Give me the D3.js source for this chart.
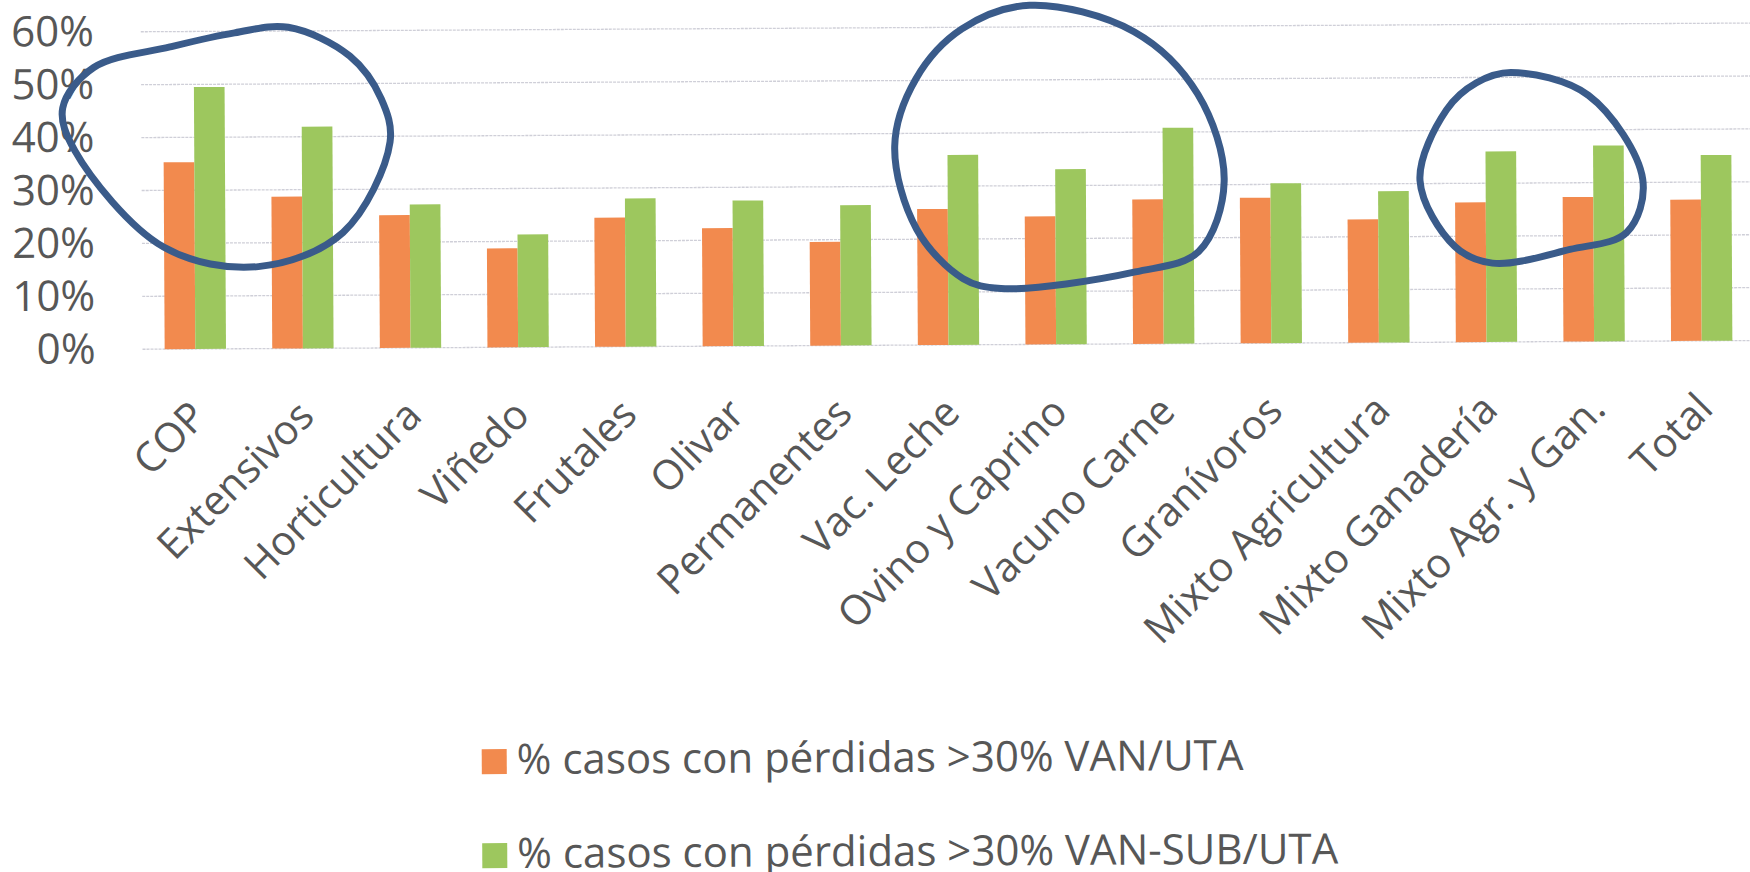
<!DOCTYPE html>
<html>
<head>
<meta charset="utf-8">
<script src="https://cdn.jsdelivr.net/npm/d3@7"></script>
<style>
  html, body { margin: 0; padding: 0; background: #ffffff; }
  svg { display: block; font-family: "Open Sans", sans-serif; }
</style>
</head>
<body>
<svg id="chart"></svg>
<script>
const categories = ['COP', 'Extensivos', 'Horticultura', 'Viñedo', 'Frutales', 'Olivar', 'Permanentes',
    'Vac. Leche', 'Ovino y Caprino', 'Vacuno Carne', 'Granívoros', 'Mixto Agricultura',
    'Mixto Ganadería', 'Mixto Agr. y Gan.', 'Total'];
const lossVanUta = [35.3, 28.7, 25.1, 18.7, 24.4, 22.3, 19.6, 25.7, 24.2, 27.3, 27.5, 23.3, 26.4, 27.3, 26.7];
const lossVanSubUta = [49.5, 41.9, 27.1, 21.3, 28.0, 27.5, 26.5, 35.9, 33.1, 40.8, 30.2, 28.6, 36.0, 37.0, 35.1];
const seriesNames = ['% casos con pérdidas >30% VAN/UTA', '% casos con pérdidas >30% VAN-SUB/UTA'];
const yTicks = [0, 10, 20, 30, 40, 50, 60];

// hand-drawn circles on the scan: [category offset from first bar group, value %]
const circleOne = [[0.88, 60.7], [1.45, 55.2], [1.74, 47.1], [1.82, 38.9], [1.38, 21.9], [0.59, 15.5],
    [-0.29, 19.3], [-1.11, 37.6], [-1.22, 45.7], [-0.93, 53.3], [-0.22, 57.1], [0.38, 59.7]];
const circleTwo = [[7.77, 64.1], [8.74, 59.0], [9.33, 47.1], [9.57, 30.6], [9.33, 17.4], [8.74, 13.6],
    [7.49, 10.6], [7.14, 12.5], [6.71, 21.9], [6.51, 37.6], [6.71, 50.3], [7.14, 59.7]];
const circleThree = [[12.24, 50.9], [12.96, 46.5], [13.46, 30.6], [13.31, 20.6], [12.78, 17.4],
    [12.06, 14.9], [11.71, 18.1], [11.39, 30.6], [11.64, 43.9], [11.92, 49.0]];

const W = 1750, H = 872;
const colors = ['#f28a4e', '#9dc75e'];
const textColor = '#575757';

const svg = d3.select('#chart').attr('width', W).attr('height', H);
svg.append('rect').attr('width', W).attr('height', H).attr('fill', '#ffffff');

// the scan is slightly tilted
const root = svg.append('g').attr('transform', 'rotate(-0.31, 875, 436)');

const x = d3.scaleBand()
    .domain(categories)
    .range([142, 142 + 15 * 107.6])
    .paddingInner(0.43)
    .paddingOuter(0.215);
const xSeries = d3.scaleBand().domain([0, 1]).range([0, x.bandwidth()]);
const y = d3.scaleLinear().domain([0, 60]).range([345.3, 27.8]);

// grid
root.append('g')
    .selectAll('line')
    .data(yTicks)
    .join('line')
    .attr('x1', 143)
    .attr('x2', W + 10)
    .attr('y1', d => y(d))
    .attr('y2', d => y(d))
    .attr('stroke', '#cfcfd8')
    .attr('stroke-width', 1.3)
    .attr('stroke-dasharray', '3,1');

// y labels
const yAxis = root.append('g')
    .attr('transform', 'translate(96,0)')
    .call(d3.axisLeft(y).tickValues(yTicks).tickFormat(d => d + '%').tickSize(0).tickPadding(0));
yAxis.select('.domain').remove();
yAxis.selectAll('text')
    .attr('font-size', 42)
    .attr('font-family', '"Open Sans", sans-serif')
    .attr('fill', textColor);

// bars
const rows = categories.map((c, i) => ({ category: c, values: [lossVanUta[i], lossVanSubUta[i]] }));
root.append('g')
    .selectAll('g')
    .data(rows)
    .join('g')
    .attr('transform', d => `translate(${x(d.category)},0)`)
    .selectAll('rect')
    .data(d => d.values.map((v, k) => ({ k, v })))
    .join('rect')
    .attr('x', d => xSeries(d.k))
    .attr('width', xSeries.bandwidth())
    .attr('y', d => y(d.v))
    .attr('height', d => y(0) - y(d.v))
    .attr('fill', d => colors[d.k]);

// x labels
root.append('g')
    .selectAll('text')
    .data(categories)
    .join('text')
    .attr('transform', d => `translate(${x(d) + x.bandwidth() / 2 + 13},${y(0) + 70}) rotate(-45)`)
    .attr('text-anchor', 'end')
    .attr('font-size', 41)
    .attr('fill', textColor)
    .text(d => d);

// legend
const legend = root.append('g')
    .selectAll('g')
    .data(seriesNames)
    .join('g')
    .attr('transform', (d, i) => `translate(480,${747 + i * 94})`);
legend.append('rect')
    .attr('width', 25)
    .attr('height', 25)
    .attr('fill', (d, i) => colors[i]);
legend.append('text')
    .attr('x', 35)
    .attr('y', 25)
    .attr('font-size', 42)
    .attr('fill', textColor)
    .text(d => d);

// annotation circles
const firstCenter = x(categories[0]) + x.bandwidth() / 2;
const outline = d3.line()
    .x(d => firstCenter + d[0] * x.step())
    .y(d => y(d[1]))
    .curve(d3.curveCatmullRomClosed.alpha(0.5));
root.append('g')
    .selectAll('path')
    .data([circleOne, circleTwo, circleThree])
    .join('path')
    .attr('d', outline)
    .attr('fill', 'none')
    .attr('stroke', '#3a5b8a')
    .attr('stroke-width', 7)
    .attr('stroke-linejoin', 'round');
</script>
</body>
</html>
